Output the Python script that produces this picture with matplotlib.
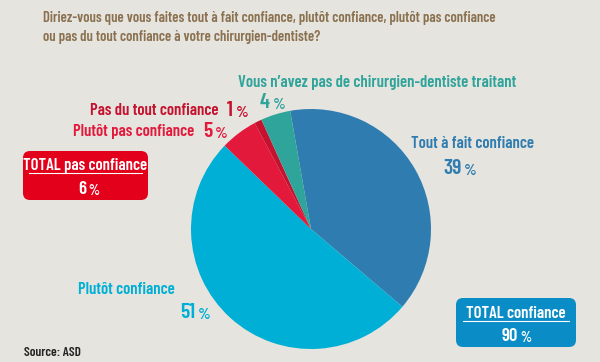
import matplotlib.pyplot as plt
from matplotlib.patches import FancyBboxPatch

plt.rcParams['font.family'] = ['Barlow Condensed', 'DejaVu Sans']
plt.rcParams['font.weight'] = 600

title = "Diriez-vous que vous faites tout à fait confiance, plutôt confiance, plutôt pas confiance\nou pas du tout confiance à votre chirurgien-dentiste?"
categories = ['Tout à fait confiance', 'Plutôt confiance', 'Plutôt pas confiance',
              'Pas du tout confiance', "Vous n’avez pas de chirurgien-dentiste traitant"]
values = [39, 51, 5, 1, 4]
colors = ['#2F7DB0', '#00AFD5', '#E3193C', '#C4122F', '#2FA49B']
total_confiance = 90
total_pas_confiance = 6

bg = '#E6E4DE'
fig = plt.figure(figsize=(6, 3.62), dpi=100, facecolor=bg)
ax = fig.add_axes([0, 0, 1, 1])
ax.set_facecolor(bg)

H = 362
def Y(y):
    return H - y

ax.pie(values, colors=colors, startangle=100, counterclock=False,
       center=(311, Y(229)), radius=120, wedgeprops=dict(linewidth=0))
ax.set_xlim(0, 600)
ax.set_ylim(0, H)
ax.set_aspect('equal')
ax.axis('off')

ax.text(43, Y(11), title, color='#8A7150', fontsize=10.6, va='top', ha='left',
        linespacing=1.5)


def pct(x, y, v, color, ha='left', size=15.5, psize=11.5):
    t = ax.text(x, Y(y), str(v), color=color, fontsize=size, ha=ha, va='baseline')
    ax.annotate(' %', xy=(1, 0), xycoords=t, color=color, fontsize=psize,
                va='bottom', ha='left')
    return t


# labels
lab = dict(fontsize=12, va='baseline')
ax.text(238, Y(87), categories[4], color=colors[4], ha='left', **lab)
pct(260, 108, values[4], colors[4])
ax.text(219, Y(115), categories[3], color=colors[3], ha='right', **lab)
pct(227, 116, values[3], colors[3])
ax.text(194, Y(136), categories[2], color=colors[2], ha='right', **lab)
pct(203, 137, values[2], colors[2])
ax.text(411, Y(148), categories[0], color=colors[0], ha='left', **lab)
pct(443, 174, values[0], colors[0])
ax.text(78, Y(294), categories[1], color=colors[1], ha='left', **lab)
pct(180, 318, values[1], colors[1])

# total boxes
red = '#E2001A'
ax.add_patch(FancyBboxPatch((23, Y(200)), 125, 49, boxstyle='round,pad=0,rounding_size=7',
                            fc=red, ec='none'))
ax.text(85.5, Y(170), 'TOTAL pas confiance', color='white', fontsize=12, ha='center', va='baseline')
ax.plot([29, 142], [Y(173), Y(173)], color='white', lw=0.8)
pct(78, 194, total_pas_confiance, 'white', size=13.5, psize=10.5)

blue = '#0A8DC6'
ax.add_patch(FancyBboxPatch((456, Y(347)), 120, 49, boxstyle='round,pad=0,rounding_size=7',
                            fc=blue, ec='none'))
ax.text(516, Y(318), 'TOTAL confiance', color='white', fontsize=12, ha='center', va='baseline')
ax.plot([463, 569], [Y(321), Y(321)], color='white', lw=0.8)
pct(502, 341, total_confiance, 'white', size=13.5, psize=10.5)

ax.text(24, Y(356), 'Source: ASD', color='#222222', fontsize=9.6, ha='left', va='baseline')

fig.savefig('out.png', dpi=100, facecolor=bg)
